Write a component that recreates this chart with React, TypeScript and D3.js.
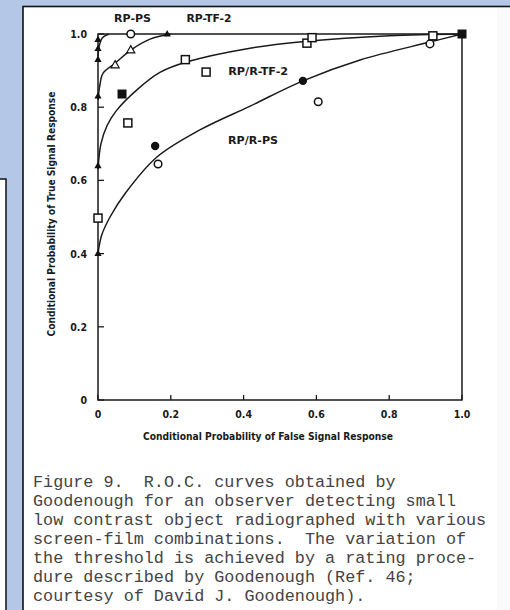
import * as d3 from 'd3';

// curves (false-signal prob, true-signal prob)
const rpPsCurve: [number, number][] = [[0, 0.94], [0.004, 0.97], [0.012, 0.99], [0.03, 1.0]];
const rpTf2Curve: [number, number][] = [
  [0, 0.82], [0.005, 0.86], [0.014, 0.893], [0.047, 0.92], [0.09, 0.956], [0.143, 0.986], [0.2, 1.0]
];
const rprTf2Curve: [number, number][] = [
  [0, 0.63], [0.008, 0.7], [0.025, 0.75], [0.05, 0.79], [0.11, 0.85], [0.17, 0.895],
  [0.245, 0.924], [0.41, 0.96], [0.574, 0.98], [0.8, 0.995], [1, 1]
];
const rprPsCurve: [number, number][] = [
  [0, 0.4], [0.01, 0.45], [0.033, 0.5], [0.075, 0.565], [0.162, 0.664], [0.28, 0.738],
  [0.418, 0.803], [0.563, 0.872], [0.72, 0.929], [0.912, 0.978], [1, 1]
];

// observed points by marker type
const filledTriangles: [number, number][] = [[0, 0.985], [0, 0.96], [0, 0.93], [0, 0.83], [0, 0.64], [0, 0.4], [0.19, 1.0]];
const openTriangles: [number, number][] = [[0.047, 0.915], [0.09, 0.956]];
const openCircles: [number, number][] = [[0.09, 1.0], [0.165, 0.645], [0.605, 0.815], [0.912, 0.973]];
const filledCircles: [number, number][] = [[0.157, 0.694], [0.563, 0.872]];
const openSquares: [number, number][] = [
  [0, 0.497], [0.082, 0.757], [0.24, 0.93], [0.297, 0.896], [0.574, 0.975], [0.588, 0.99], [0.92, 0.995]
];
const filledSquares: [number, number][] = [[0.066, 0.836], [1.0, 1.0]];

const tickValues = [0, 0.2, 0.4, 0.6, 0.8, 1.0];
const tickLabels = ['0', '0.2', '0.4', '0.6', '0.8', '1.0'];

const seriesLabels = [
  { text: 'RP-PS', x: 0.095, y: 1.045, w: 37 },
  { text: 'RP-TF-2', x: 0.305, y: 1.045, w: 45 },
  { text: 'RP/R-TF-2', x: 0.44, y: 0.9, w: 60 },
  { text: 'RP/R-PS', x: 0.426, y: 0.71, w: 50 }
];

const captionLines = [
  'Figure 9.  R.O.C. curves obtained by',
  'Goodenough for an observer detecting small',
  'low contrast object radiographed with various',
  'screen-film combinations.  The variation of',
  'the threshold is achieved by a rating proce-',
  'dure described by Goodenough (Ref. 46;',
  'courtesy of David J. Goodenough).'
];

const chartFont = '"Liberation Sans Narrow", "DejaVu Sans Condensed", sans-serif';

export default function App() {
  const x = d3.scaleLinear().domain([0, 1]).range([98, 462]);
  const y = d3.scaleLinear().domain([0, 1]).range([400, 34]);

  const line = d3
    .line<[number, number]>()
    .x(d => x(d[0]))
    .y(d => y(d[1]))
    .curve(d3.curveCatmullRom.alpha(0.5));

  const tri = (cx: number, cy: number, s: number) =>
    `M${cx},${cy - s}L${cx + s * 0.9},${cy + s * 0.6}L${cx - s * 0.9},${cy + s * 0.6}Z`;

  return (
    <svg
      width={510}
      height={610}
      style={{ position: 'fixed', left: 0, top: 0, display: 'block' }}
    >
      <rect width={510} height={610} fill="#b4c7e7" />
      {/* left partial panel */}
      <rect x={-2} y={179} width={8} height={440} fill="#ffffff" stroke="#111" strokeWidth={1.5} />
      {/* main white panel */}
      <rect x={23} y={6.5} width={500} height={620} fill="#ffffff" stroke="#111" strokeWidth={1.6} />
      <rect x={497} y={8} width={13} height={602} fill="#fafafa" />

      <g fontFamily={chartFont} fontWeight="bold" fill="#1a1a1a">
        {/* frame */}
        <path
          d={`M${x(0)},${y(1)}V${y(0)}H${x(1)}V${y(1)}Z`}
          fill="none"
          stroke="#1a1a1a"
          strokeWidth={1.5}
        />
        {tickValues.map((t, i) => (
          <g key={`yt${i}`}>
            <line x1={x(0)} x2={x(0) + 6} y1={y(t)} y2={y(t)} stroke="#1a1a1a" strokeWidth={1.3} />
            <text x={87} y={y(t) + 4} textAnchor="end" fontSize={10.5}>
              {tickLabels[i]}
            </text>
          </g>
        ))}
        {tickValues.map((t, i) => (
          <g key={`xt${i}`}>
            <line x1={x(t)} x2={x(t)} y1={y(0)} y2={y(0) - 5} stroke="#1a1a1a" strokeWidth={1.3} />
            <text x={x(t)} y={418} textAnchor="middle" fontSize={10.5}>
              {tickLabels[i]}
            </text>
          </g>
        ))}
        <text x={268} y={440} textAnchor="middle" fontSize={10} textLength={250} lengthAdjust="spacingAndGlyphs">
          Conditional Probability of False Signal Response
        </text>
        <text
          transform={`translate(55,214) rotate(-90)`}
          textAnchor="middle"
          fontSize={10}
          textLength={245}
          lengthAdjust="spacingAndGlyphs"
        >
          Conditional Probability of True Signal Response
        </text>

        {seriesLabels.map(s => (
          <text
            key={s.text}
            x={x(s.x)}
            y={y(s.y) + 4}
            textAnchor="middle"
            fontSize={10.5}
            textLength={s.w}
            lengthAdjust="spacingAndGlyphs"
          >
            {s.text}
          </text>
        ))}

        {[rpPsCurve, rpTf2Curve, rprTf2Curve, rprPsCurve].map((c, i) => (
          <path key={`c${i}`} d={line(c) ?? ''} fill="none" stroke="#1a1a1a" strokeWidth={1.5} />
        ))}

        {filledTriangles.map((p, i) => (
          <path key={`ft${i}`} d={tri(x(p[0]), y(p[1]), 4)} fill="#111" />
        ))}
        {openTriangles.map((p, i) => (
          <path key={`ot${i}`} d={tri(x(p[0]), y(p[1]), 4.5)} fill="#fff" stroke="#111" strokeWidth={1.2} />
        ))}
        {openCircles.map((p, i) => (
          <circle key={`oc${i}`} cx={x(p[0])} cy={y(p[1])} r={3.8} fill="#fff" stroke="#111" strokeWidth={1.5} />
        ))}
        {filledCircles.map((p, i) => (
          <circle key={`fc${i}`} cx={x(p[0])} cy={y(p[1])} r={4.2} fill="#111" />
        ))}
        {openSquares.map((p, i) => (
          <rect key={`os${i}`} x={x(p[0]) - 4} y={y(p[1]) - 4} width={8} height={8} fill="#fff" stroke="#111" strokeWidth={1.5} />
        ))}
        {filledSquares.map((p, i) => (
          <rect key={`fs${i}`} x={x(p[0]) - 4.5} y={y(p[1]) - 4.5} width={9} height={9} fill="#111" />
        ))}
      </g>

      <g fontFamily='"Liberation Mono", "DejaVu Sans Mono", monospace' fontSize={16.8} fill="#444">
        {captionLines.map((l, i) => (
          <text key={i} x={33} y={487 + i * 19} style={{ whiteSpace: 'pre' }}>
            {l}
          </text>
        ))}
      </g>
    </svg>
  );
}
